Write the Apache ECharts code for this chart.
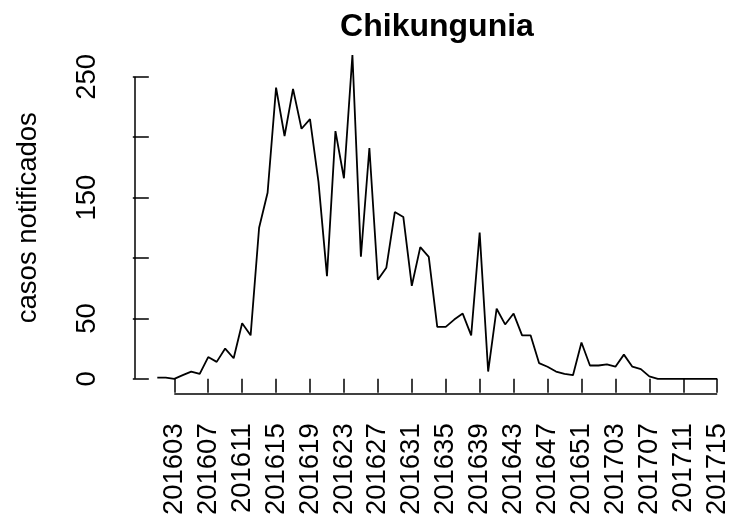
<!DOCTYPE html>
<html lang="pt">
<head>
    <meta charset="UTF-8">
    <title>Chikungunia</title>
    <style>
        html,body{
            padding: 0;margin: 0;background: #fff;
        }
        #chart{
            width: 729px;height: 516px;
        }
    </style>
    <script src="https://cdn.jsdelivr.net/npm/echarts@6/dist/echarts.min.js"></script>
</head>
<body>
<div id="chart"></div>
</body>
</html>
<script>
    // semanas epidemiologicas 201601 .. 201715
    var weeks = [
        '201601','201602','201603','201604','201605','201606','201607','201608','201609','201610',
        '201611','201612','201613','201614','201615','201616','201617','201618','201619','201620',
        '201621','201622','201623','201624','201625','201626','201627','201628','201629','201630',
        '201631','201632','201633','201634','201635','201636','201637','201638','201639','201640',
        '201641','201642','201643','201644','201645','201646','201647','201648','201649','201650',
        '201651','201652','201701','201702','201703','201704','201705','201706','201707','201708',
        '201709','201710','201711','201712','201713','201714','201715'
    ];
    var cases = [
        1, 1, 0, 3, 6, 4, 18, 14, 25, 17,
        46, 36, 125, 154, 241, 201, 240, 207, 215, 163,
        85, 205, 166, 268, 101, 191, 82, 92, 138, 134,
        77, 109, 101, 43, 43, 49, 54, 36, 121, 6,
        58, 45, 54, 36, 36, 13, 10, 6, 4, 3,
        30, 11, 11, 12, 10, 20, 10, 8, 2, 0,
        0, 0, 0, 0, 0, 0, 0
    ];
    var tickWeeks = ['201603','201607','201611','201615','201619','201623','201627','201631','201635',
        '201639','201643','201647','201651','201703','201707','201711','201715'];
    var yTicks = [0, 50, 100, 150, 200, 250];
    var yLabels = [0, 50, 150, 250];

    var tickIdx = tickWeeks.map(function(w){ return weeks.indexOf(w) + 1; });
    var lineData = cases.map(function(v, i){ return [i + 1, v]; });

    // R style range: 4% padding round the data
    var xMin = 1 - 0.04 * (weeks.length - 1);
    var xMax = weeks.length + 0.04 * (weeks.length - 1);
    var yMin = -12;
    var yMax = 278.7;

    var font = 'Liberation Sans, Arial, Helvetica, sans-serif';
    var myChart = echarts.init(document.getElementById('chart'));

    var option = {
        animation: false,
        backgroundColor: '#fff',
        title: {
            text: 'Chikungunia',
            left: 437,
            top: 11,
            padding: 0,
            textAlign: 'center',
            textStyle: {fontFamily: font, fontSize: 32, fontWeight: 'bold', color: '#000'}
        },
        // plot region runs past the right edge of the picture, like the reference
        grid: {left: 134.9, width: 604.7, top: 42.1, bottom: 122.7, outerBoundsMode: 'none', containLabel: false},
        xAxis: {
            type: 'value',
            min: xMin,
            max: xMax,
            axisLine: {show: false},
            splitLine: {show: false},
            axisTick: {show: true, customValues: tickIdx, length: 14, lineStyle: {color: '#000', width: 1.5}},
            axisLabel: {
                customValues: tickIdx,
                rotate: 90,
                margin: 30,
                fontFamily: font,
                fontSize: 27.5,
                color: '#000',
                formatter: function(v){ return weeks[v - 1]; }
            }
        },
        yAxis: {
            type: 'value',
            min: yMin,
            max: yMax,
            name: 'casos notificados',
            nameLocation: 'middle',
            nameGap: 92,
            nameTextStyle: {fontFamily: font, fontSize: 27.5, color: '#000'},
            axisLine: {show: false},
            splitLine: {show: false},
            axisTick: {show: true, customValues: yTicks, length: 16, lineStyle: {color: '#000', width: 1.5}},
            axisLabel: {
                customValues: yLabels,
                rotate: 90,
                margin: 33,
                fontFamily: font,
                fontSize: 27.5,
                color: '#000'
            }
        },
        series: [
            {
                type: 'line',
                data: lineData,
                symbol: 'none',
                clip: false,
                lineStyle: {color: '#000', width: 1.8},
                markLine: {
                    silent: true,
                    symbol: 'none',
                    label: {show: false},
                    lineStyle: {color: '#000', width: 1.5, type: 'solid'},
                    emphasis: {disabled: true},
                    data: [
                        [{coord: [tickIdx[0], yMin]}, {coord: [tickIdx[tickIdx.length - 1], yMin]}],
                        [{coord: [xMin, yTicks[0]]}, {coord: [xMin, yTicks[yTicks.length - 1]]}]
                    ]
                }
            }
        ]
    };
    myChart.setOption(option);
</script>
